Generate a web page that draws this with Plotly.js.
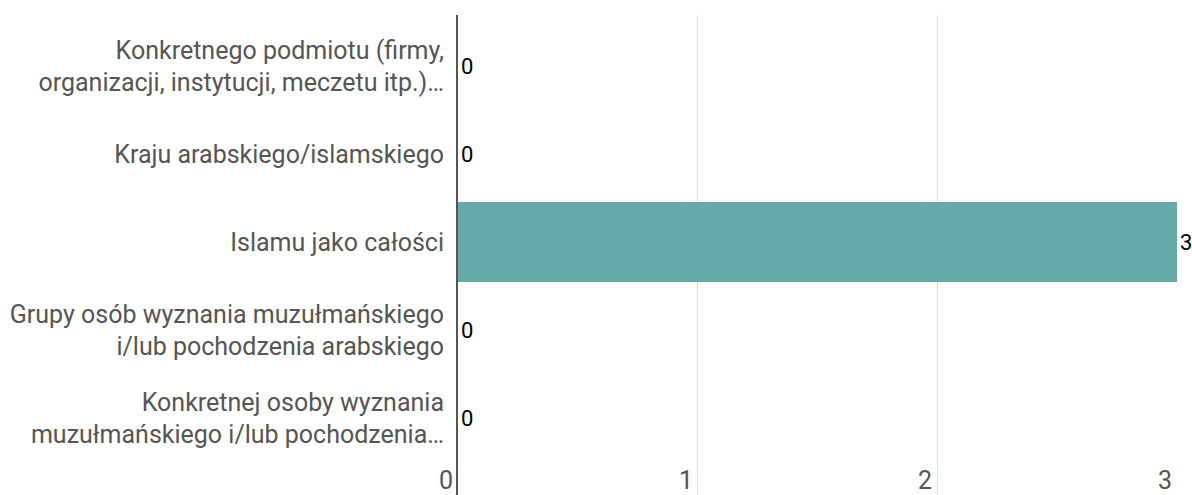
<!DOCTYPE html>
<html><head><meta charset="utf-8">
<script src="https://cdn.plot.ly/plotly-3.0.1.min.js"></script>
<style>html,body{margin:0;padding:0;background:#fff}#chart{width:1192px;height:495px}</style>
</head><body><div id="chart"></div>
<script>
const categories = [
  "Konkretnego podmiotu (firmy,<br>organizacji, instytucji, meczetu itp.)…",
  "Kraju arabskiego/islamskiego",
  "Islamu jako całości",
  "Grupy osób wyznania muzułmańskiego<br>i/lub pochodzenia arabskiego",
  "Konkretnej osoby wyznania<br>muzułmańskiego i/lub pochodzenia…"
];
const values = [0, 0, 3, 0, 0];
const xTicks = [0, 1, 2, 3];

const trace = {
  type: 'bar', orientation: 'h',
  y: categories.map((c, i) => i), x: values,
  marker: {color: '#67a9a8'},
  width: 0.91,
  cliponaxis: false, hoverinfo: 'none'
};
const valueAnns = values.map((v, i) => ({
  x: v, xref: 'x', y: i, yref: 'y',
  text: String(v), showarrow: false,
  xanchor: 'left', yanchor: 'middle', xshift: 1,
  font: {family: 'Roboto', size: 22, color: '#000'}
}));
const tickAnns = xTicks.map(v => ({
  x: v, xref: 'x', y: 0, yref: 'paper',
  text: String(v), showarrow: false,
  xanchor: 'right', yanchor: 'bottom', xshift: -3, yshift: -2,
  font: {family: 'Roboto', size: 25, color: '#555'}
}));
const layout = {
  width: 1192, height: 495,
  margin: {l: 458, r: 15, t: 15, b: 0},
  paper_bgcolor: '#fff', plot_bgcolor: '#fff',
  showlegend: false,
  font: {family: 'Roboto', size: 25, color: '#555'},
  xaxis: {
    range: [0, 3], tickvals: xTicks, showticklabels: false,
    showgrid: true, gridcolor: '#e0e0e0', gridwidth: 1,
    zeroline: false, showline: false, fixedrange: true
  },
  yaxis: {
    range: [4.875, -0.58],
    tickvals: categories.map((c, i) => i), ticktext: categories,
    showgrid: false, zeroline: false,
    showline: true, linecolor: '#555', linewidth: 2,
    ticks: '', ticklabelstandoff: 7,
    tickfont: {family: 'Roboto', size: 25, color: '#555'},
    fixedrange: true
  },
  annotations: valueAnns.concat(tickAnns),
  bargap: 0.09
};
Plotly.newPlot('chart', [trace], layout, {displayModeBar: false, staticPlot: true});
</script></body></html>
